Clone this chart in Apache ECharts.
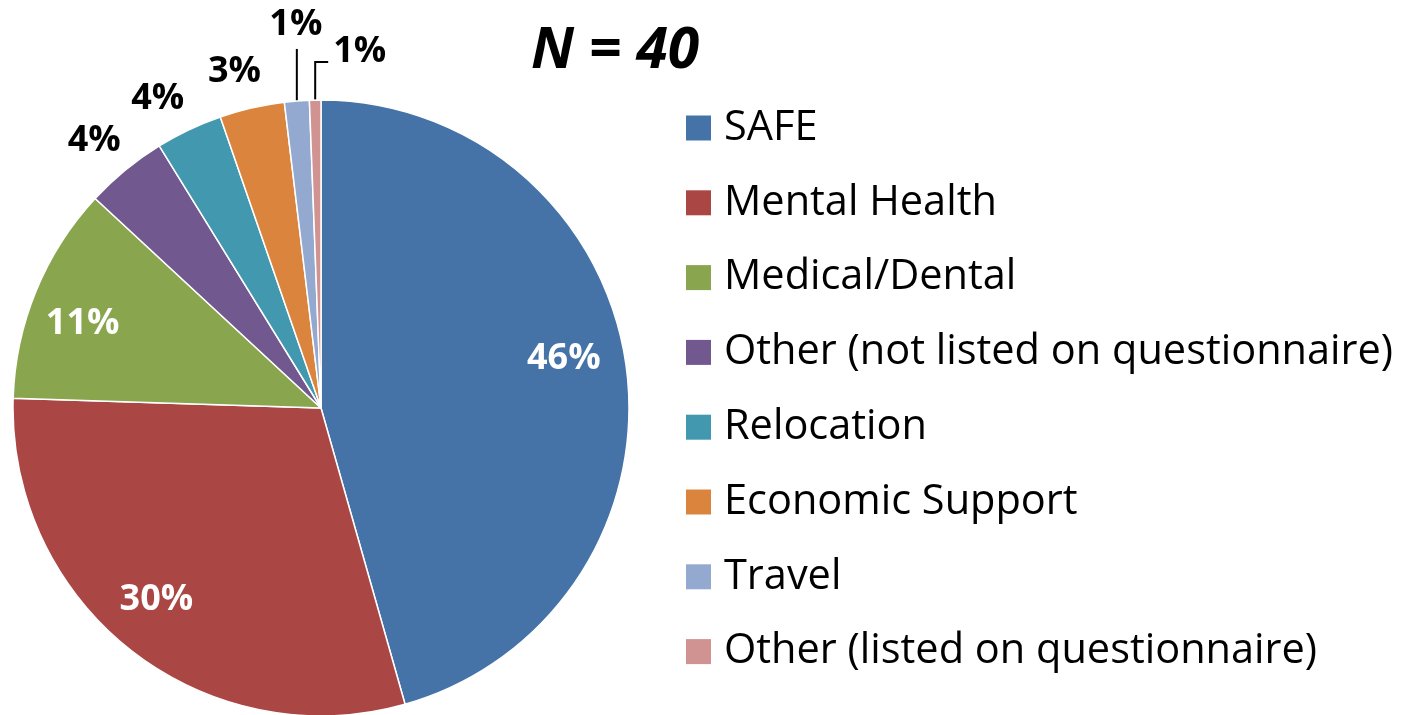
<!DOCTYPE html>
<html>
<head>
<meta charset="utf-8">
<script src="https://cdn.jsdelivr.net/npm/echarts@6/dist/echarts.min.js"></script>
<style>
  html, body { margin: 0; padding: 0; background: #fff; }
  #chart { width: 1410px; height: 715px; }
</style>
</head>
<body>
<div id="chart"></div>
<script>
// ── Data (share of services, %) ──────────────────────────────────────────────
var categories = [
  'SAFE',
  'Mental Health',
  'Medical/Dental',
  'Other (not listed on questionnaire)',
  'Relocation',
  'Economic Support',
  'Travel',
  'Other (listed on questionnaire)'
];
var shares = [45.6, 29.9, 11.4, 4.3, 3.5, 3.4, 1.3, 0.6];
var colors = ['#4572A7', '#AA4643', '#89A54E', '#71588F', '#4198AF', '#DB843D', '#93A9CF', '#D19392'];
var titleText = 'N = 40';

// ── Layout ───────────────────────────────────────────────────────────────────
var CX = 321, CY = 408, R = 308;
var FONT = "'Open Sans', 'Noto Sans', sans-serif";
// small pixel nudges for data labels (Excel-style "best fit" placement)
var labelNudge = [[-6, -15], [-10, -6], [-6, 11], [-7, 0], [-15, 3], [-9, 1], [0, 0], [0, 0]];

function placeLabel(p) {
  var i = p.dataIndex;
  var n = labelNudge[i];
  var lr = p.labelRect;
  var mx = lr.x + lr.width / 2, my = lr.y + lr.height / 2;
  if (i < 3) {
    // big slices: label pushed out towards the rim
    var k = 1.6;
    return { x: CX + (mx - CX) * k + n[0], y: CY + (my - CY) * k + n[1], align: 'center', verticalAlign: 'middle' };
  }
  var pts = p.labelLinePoints;
  if (!pts) return;
  var e = pts[0];
  var dx = (e[0] - CX) / R, dy = (e[1] - CY) / R;
  if (i === 6) {
    return {
      x: e[0] - 1, y: e[1] - 76, align: 'center', verticalAlign: 'middle',
      labelLinePoints: [e, [e[0], e[1] - 52]]
    };
  }
  if (i === 7) {
    return {
      x: e[0] + 18, y: e[1] - 48, align: 'left', verticalAlign: 'middle',
      labelLinePoints: [e, [e[0], e[1] - 38], [e[0] + 13, e[1] - 38]]
    };
  }
  return { x: e[0] + dx * 38 + n[0], y: e[1] + dy * 38 + n[1], align: 'center', verticalAlign: 'middle' };
}

var pieData = categories.map(function (name, i) {
  var inside = i < 3;
  return {
    name: name,
    value: shares[i],
    itemStyle: { color: colors[i] },
    label: {
      position: inside ? 'inside' : 'outside',
      color: inside ? '#ffffff' : '#000000'
    },
    labelLine: {
      show: !inside,
      length: 10,
      length2: 0,
      lineStyle: { color: i >= 6 ? '#000000' : 'rgba(0,0,0,0)', width: 2 }
    }
  };
});

var chart = echarts.init(document.getElementById('chart'), null, { renderer: 'canvas' });
chart.setOption({
  backgroundColor: '#ffffff',
  animation: false,
  title: {
    text: titleText,
    left: 531,
    top: 23,
    padding: 0,
    textStyle: { fontFamily: FONT, fontSize: 57, fontWeight: 'bold', fontStyle: 'italic', color: '#000' }
  },
  legend: {
    orient: 'vertical',
    left: 686,
    top: 107,
    padding: 0,
    itemWidth: 25,
    itemHeight: 25,
    itemGap: 32.8,
    icon: 'rect',
    itemStyle: { borderWidth: 0 },
    textStyle: { fontFamily: FONT, fontSize: 41.5, lineHeight: 40, color: '#000', padding: [0, 0, 0, 8] },
    data: categories
  },
  series: [{
    type: 'pie',
    center: [CX, CY],
    radius: R,
    startAngle: 90,
    clockwise: true,
    avoidLabelOverlap: false,
    itemStyle: { borderColor: '#ffffff', borderWidth: 1.5 },
    label: {
      show: true,
      fontFamily: FONT,
      fontSize: 36,
      fontWeight: 'bold',
      formatter: function (p) { return Math.round(p.value) + '%'; }
    },
    labelLayout: placeLabel,
    emphasis: { disabled: true },
    data: pieData
  }]
});
</script>
</body>
</html>
